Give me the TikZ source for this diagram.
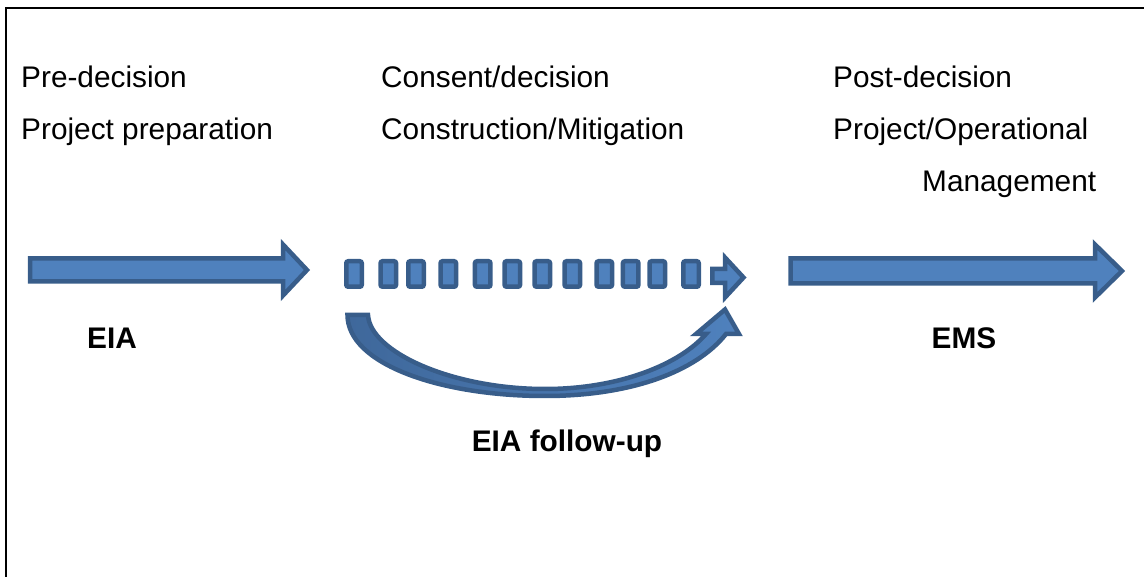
\documentclass[tikz,border=0pt]{standalone}
\usepackage{fontspec}
\setmainfont{Liberation Sans}
\definecolor{arrowfill}{HTML}{4F81BD}
\definecolor{arrowline}{HTML}{385D8A}
\definecolor{arrowshade}{HTML}{3F689B}
\begin{document}
\begin{tikzpicture}[x=1pt,y=-1pt,
  phase/.style={anchor=base west, inner sep=0pt, font=\fontsize{29.8}{36}\selectfont},
  tag/.style={anchor=base, inner sep=0pt, font=\fontsize{29.8}{36}\selectfont\bfseries},
  blockarrow/.style={fill=arrowfill, draw=arrowline, line width=4.5pt, line join=miter},
  segbox/.style={fill=arrowfill, draw=arrowline, line width=4.5pt, rounded corners=2pt},
]
\useasboundingbox (0,0) rectangle (1144,577);

% frame (open to the right and below)
\draw[line width=2.5pt] (6,577) -- (6,8) -- (1144,8);

% phase headings
\node[phase] (pre1)  at (21,88)  {Pre-decision};
\node[phase] (pre2)  at (21,140) {Project preparation};
\node[phase] (con1)  at (381,88)  {Consent/decision};
\node[phase] (con2)  at (381,140) {Construction/Mitigation};
\node[phase] (post1) at (833,88)  {Post-decision};
\node[phase] (post2) at (833,140) {Project/Operational};
\node[phase] (post3) at (922,192) {Management};

% EIA block arrow
\draw[blockarrow] (30,258.5) -- (283,258.5) -- (283,244.5) -- (307,270)
  -- (283,295.5) -- (283,281.5) -- (30,281.5) -- cycle;

% EMS block arrow
\draw[blockarrow] (790.5,258.5) -- (1095,258.5) -- (1095,244.5) -- (1122,271)
  -- (1095,297.5) -- (1095,283.5) -- (790.5,283.5) -- cycle;

% segmented arrow between them
\foreach \x in {344,378.3,406,438.3,472.7,502.3,532.3,562.3,594.3,620.7,647.3,681}
  \draw[segbox] (\x+2.25,261.25) rectangle (\x+17.75,286.75);
\draw[blockarrow] (712.25,269) -- (725,269) -- (725,257.5) -- (743.5,277.5)
  -- (725,297.5) -- (725,283) -- (712.25,283) -- cycle;

% curved follow-up arrow
\draw[draw=arrowline, line width=4.5pt, line join=miter,
      left color=arrowshade, right color=arrowfill]
  (347.5,315) -- (368,315)
  .. controls (370,352) and (452,389) .. (545,389)
  .. controls (620,389) and (680,364) .. (706,334)
  -- (696,334) -- (725,309.5) -- (739,334) -- (726,334)
  .. controls (696,372) and (630,396) .. (545,396)
  .. controls (440,396) and (347.5,364) .. cycle;

% stage labels
\node[tag] (eia) at (112,348.5) {EIA};
\node[tag] (ems) at (964,348.5) {EMS};
\node[tag] (fup) at (567,451.5) {EIA follow-up};
\end{tikzpicture}
\end{document}
